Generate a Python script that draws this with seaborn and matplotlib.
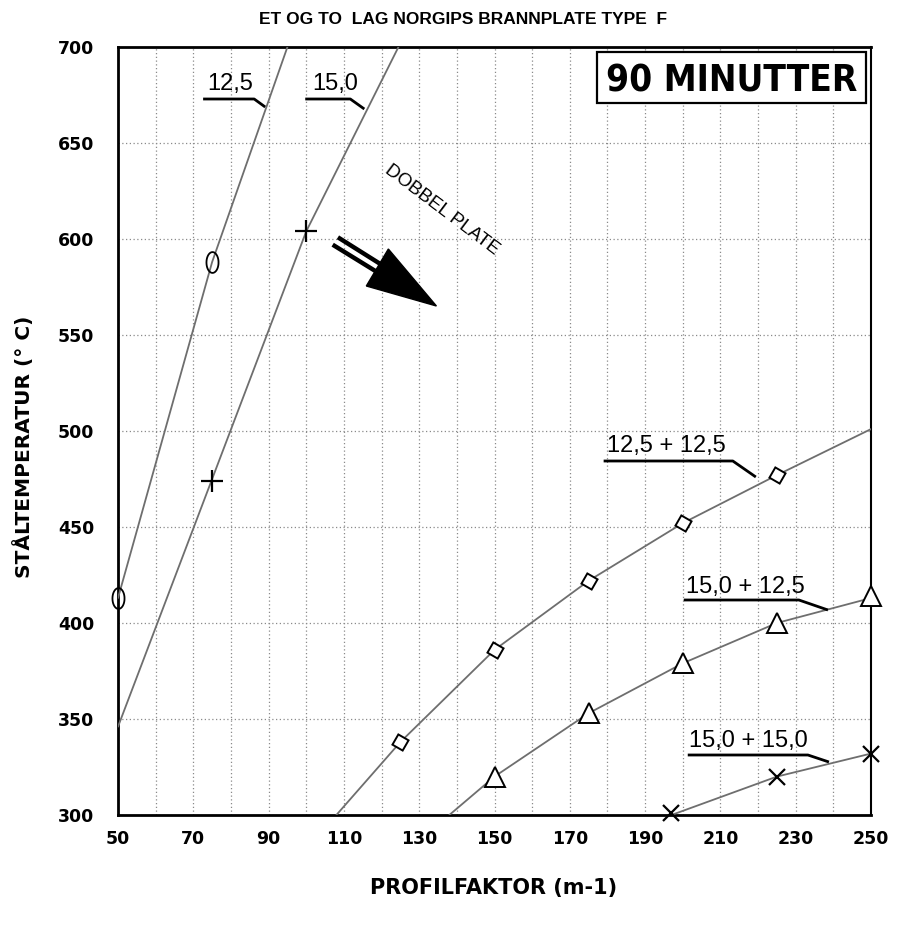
import numpy as np
import matplotlib
matplotlib.use("Agg")
import matplotlib.pyplot as plt
import seaborn as sns
from matplotlib.patches import Polygon, Rectangle

# single plate curves (curve points + marker points)
c125_x = [50, 75, 100]
c125_y = [413, 588, 728]
m125_x = [50, 75]
m125_y = [413, 588]

c150_x = [50, 75, 100, 125]
c150_y = [346, 475, 604, 702]
m150_x = [75, 100]
m150_y = [474, 604]

# double plate curves
cd1_x = [108, 125, 150, 175, 200, 225, 250]
cd1_y = [300, 338, 386, 422, 452, 477, 501]
md1_x = [125, 150, 175, 200, 225]
md1_y = [338, 386, 422, 452, 477]

cd2_x = [138, 150, 175, 200, 225, 250]
cd2_y = [300, 320, 353, 379, 400, 413]
md2_x = [150, 175, 200, 225, 250]
md2_y = [320, 353, 379, 400, 414]

cd3_x = [197, 225, 250]
cd3_y = [300, 320, 332]
md3_x = [197, 225, 250]
md3_y = [301, 320, 332]

x_ticks = list(range(50, 251, 10))
x_labels = [str(v) if (v - 50) % 20 == 0 else "" for v in x_ticks]
y_ticks = list(range(300, 701, 50))

sns.set_style("white")
plt.rcParams["text.color"] = "black"
plt.rcParams["xtick.labelcolor"] = "black"
plt.rcParams["ytick.labelcolor"] = "black"
plain = ["Liberation Sans", "DejaVu Sans"]
heavy = ["DejaVu Sans"]

fig = plt.figure(figsize=(8.98, 9.31), dpi=100)
ax = fig.add_axes([118 / 898, 116 / 931, 753 / 898, 768 / 931])


def px(x, y):
    # pixel position in the picture -> data coords (for annotations only)
    return (50 + (x - 118) / 3.76, 700 - (y - 47) / 1.92)


line_col = "#6e6e6e"
for cx, cy in [(c125_x, c125_y), (c150_x, c150_y), (cd1_x, cd1_y),
               (cd2_x, cd2_y), (cd3_x, cd3_y)]:
    sns.lineplot(x=cx, y=cy, sort=False, color=line_col, linewidth=1.3,
                 ax=ax, zorder=3)

# oval "0" marker shape
t = np.linspace(0, 2 * np.pi, 41)
oval = list(zip(0.58 * np.cos(t), np.sin(t)))

mk = dict(linestyle="none", color="black", clip_on=False, zorder=4)
ax.plot(m125_x, m125_y, marker=oval, markersize=15, markeredgewidth=1.3,
        markerfacecolor="none", **mk)
ax.plot(m150_x, m150_y, marker="+", markersize=16, markeredgewidth=1.6, **mk)
ax.plot(md1_x, md1_y, marker=(4, 0, 15), markersize=12, markeredgewidth=1.4,
        markerfacecolor="white", **mk)
ax.plot(md2_x, md2_y, marker="^", markersize=14, markeredgewidth=1.4,
        markerfacecolor="white", **mk)
ax.plot(md3_x, md3_y, marker="x", markersize=11, markeredgewidth=1.6, **mk)

ax.set_xlim(50, 250)
ax.set_ylim(300, 700)
ax.set_xticks(x_ticks)
ax.set_xticklabels(x_labels)
ax.set_yticks(y_ticks)
ax.grid(True, linestyle=(0, (1, 2)), color="#8a8a8a", linewidth=0.9)
ax.tick_params(axis="both", length=7, width=0.8, color="#999999")
ax.tick_params(axis="y", pad=10)
ax.tick_params(axis="x", pad=4)
for lab in ax.get_xticklabels() + ax.get_yticklabels():
    lab.set_family(heavy)
    lab.set_fontweight("heavy")
    lab.set_fontsize(12.5)
    lab.set_color("black")
for side in ["left", "bottom", "top"]:
    ax.spines[side].set_linewidth(2)
    ax.spines[side].set_color("black")
ax.spines["right"].set_linewidth(1.5)
ax.spines["right"].set_color("black")

# curve labels with leader lines
labels = [
    ("12,5", (207, 90), [(203, 99), (254, 99), (265, 107)]),
    ("15,0", (312, 90), [(305, 99), (350, 99), (364, 109)]),
    ("12,5 + 12,5", (606, 452), [(603, 461), (732, 461), (755, 477)]),
    ("15,0 + 12,5", (685, 593), [(683, 600), (798, 600), (827, 610)]),
    ("15,0 + 15,0", (688, 747), [(687, 755), (807, 755), (828, 762)]),
]
for txt, pos, lead in labels:
    tx, ty = px(*pos)
    ax.text(tx, ty, txt, family=plain, fontsize=17, color="black",
            ha="left", va="baseline", zorder=5)
    pts = [px(*p) for p in lead]
    ax.plot([p[0] for p in pts], [p[1] for p in pts], color="black",
            linewidth=2, solid_capstyle="butt", zorder=5)

# "DOBBEL PLATE" with arrow
tx, ty = px(441, 210)
ax.text(tx, ty, "DOBBEL PLATE", family=plain, fontsize=13.5, rotation=-37,
        rotation_mode="anchor", ha="center", va="center", color="black",
        zorder=5)
for a, b in [((337.6, 237.3), (380, 264)), ((332.4, 244.7), (375, 271))]:
    p0, p1 = px(*a), px(*b)
    ax.plot([p0[0], p1[0]], [p0[1], p1[1]], color="black", linewidth=3.2,
            solid_capstyle="butt", zorder=5)
ax.add_patch(Polygon([px(388, 249), px(366, 286), px(436, 306)],
                     closed=True, facecolor="black", edgecolor="black",
                     zorder=5))

# "90 MINUTTER" box
bx0, by0 = px(596, 103)
bx1, by1 = px(865, 52)
ax.add_patch(Rectangle((bx0, by0), bx1 - bx0, by1 - by0, facecolor="white",
                       edgecolor="black", linewidth=1.6, zorder=6))
big = ax.text((bx0 + bx1) / 2, (by0 + by1) / 2, "90 MINUTTER",
              family=["DejaVu Sans"], fontstretch="condensed",
              fontweight="heavy", fontsize=34, ha="center",
              va="center_baseline", color="black", zorder=7)
fig.canvas.draw()
w = big.get_window_extent().width
big.set_fontsize(34 * 252 / w)

fig.text(463 / 898, 1 - 19 / 931, "ET OG TO  LAG NORGIPS BRANNPLATE TYPE  F",
         family=plain, fontweight="bold", fontsize=12.5, ha="center",
         va="center", color="black")
fig.text(24 / 898, 1 - 447 / 931, "STÅLTEMPERATUR (° C)", family=heavy,
         fontweight="heavy", fontsize=14.5, rotation=90, ha="center",
         va="center", color="black")
fig.text(494 / 898, 1 - 888 / 931, "PROFILFAKTOR (m-1)", family=heavy,
         fontweight="heavy", fontsize=15, ha="center", va="center",
         color="black")

fig.savefig("out.png", dpi=100)
